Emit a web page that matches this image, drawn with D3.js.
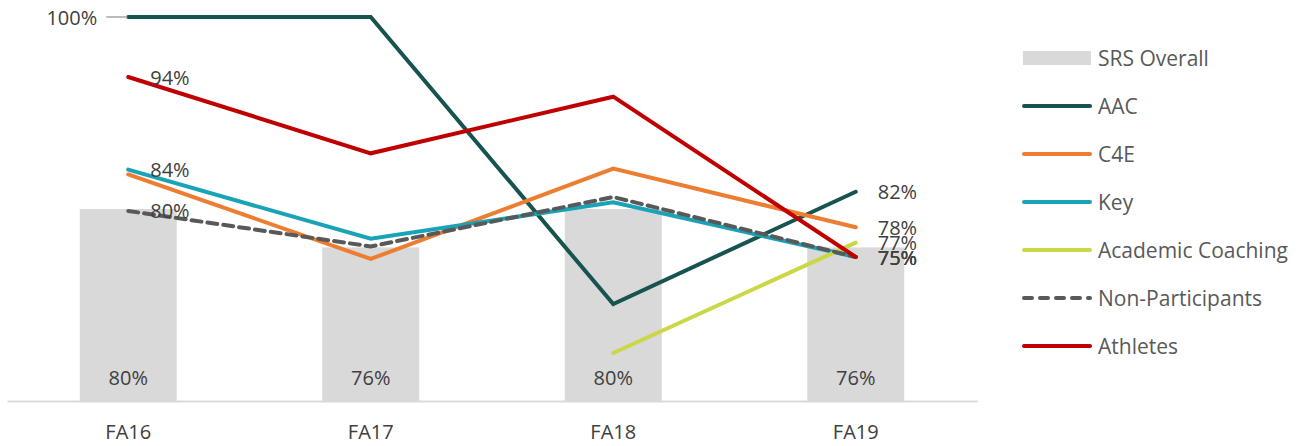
<!DOCTYPE html>
<html lang="en">
<head>
<meta charset="utf-8">
<title>SRS by program</title>
<script src="https://d3js.org/d3.v7.min.js"></script>
<style>
  body { margin: 0; background: #fff; }
  text { font-family: "Open Sans", "Noto Sans", sans-serif; font-size: 20px; fill: #404040; }
  .legend text { fill: #595959; font-size: 21px; }
</style>
</head>
<body>
<script>
// data
var terms = ["FA16", "FA17", "FA18", "FA19"];
var srsOverall = [0.80, 0.76, 0.80, 0.76];
var seriesNames = ["AAC", "C4E", "Key", "Academic Coaching", "Non-Participants", "Athletes"];
var aac = [1.00, 1.00, 0.701, 0.818];
var c4e = [0.836, 0.748, 0.842, 0.781];
var key = [0.841, 0.769, 0.807, 0.75];
var academicCoaching = [null, null, 0.65, 0.765];
var nonParticipants = [0.798, 0.761, 0.8125, 0.75];
var athletes = [0.9375, 0.858, 0.917, 0.75];
var seriesValues = [aac, c4e, key, academicCoaching, nonParticipants, athletes];

var colors = ["#17544f", "#ed7d31", "#19a3b6", "#c9d844", "#595959", "#c00000"];
var dashes = [null, null, null, null, "10,6", null];
// which points carry a data label (index into terms)
var labelPoints = [[0, 3], [3], [0, 3], [3], [0, 3], [0, 3]];

var W = 1299, H = 446;
var plot = {left: 7, right: 977, top: 17, bottom: 401};

var svg = d3.select("body").append("svg")
  .attr("width", W).attr("height", H);

var x = d3.scaleBand().domain(terms).range([plot.left, plot.right]).paddingInner(0).paddingOuter(0);
var y = d3.scaleLinear().domain([0.6, 1.0]).range([plot.bottom, plot.top]);
var barW = x.bandwidth() * 0.4;
var fmt = d3.format(".0%");

// bars
svg.append("g").selectAll("rect")
  .data(srsOverall)
  .enter().append("rect")
  .attr("x", function(d, i) { return x(terms[i]) + x.bandwidth() / 2 - barW / 2; })
  .attr("width", barW)
  .attr("y", function(d) { return y(d); })
  .attr("height", function(d) { return plot.bottom - y(d); })
  .attr("fill", "#d9d9d9");

// baseline + category labels
var xAxis = svg.append("g").attr("transform", "translate(0," + plot.bottom + ")")
  .call(d3.axisBottom(x).tickSize(0).tickPadding(24));
xAxis.select(".domain").attr("stroke", "#d9d9d9").attr("stroke-width", 2);
xAxis.selectAll("text").style("font-family", null).style("font-size", "20px").attr("fill", "#404040");
xAxis.attr("font-family", null).attr("font-size", null);

// bar labels
svg.append("g").selectAll("text")
  .data(srsOverall)
  .enter().append("text")
  .attr("x", function(d, i) { return x(terms[i]) + x.bandwidth() / 2; })
  .attr("y", 377)
  .attr("text-anchor", "middle")
  .attr("dominant-baseline", "central")
  .text(function(d) { return fmt(d); });

// lines
var line = d3.line()
  .defined(function(d) { return d != null; })
  .x(function(d, i) { return x(terms[i]) + x.bandwidth() / 2; })
  .y(function(d) { return y(d); });

seriesValues.forEach(function(vals, s) {
  svg.append("path")
    .attr("d", line(vals))
    .attr("fill", "none")
    .attr("stroke", colors[s])
    .attr("stroke-width", 4)
    .attr("stroke-linecap", "round")
    .attr("stroke-linejoin", "miter")
    .attr("stroke-dasharray", dashes[s]);
});

// data labels
seriesValues.forEach(function(vals, s) {
  labelPoints[s].forEach(function(i) {
    var cx = x(terms[i]) + x.bandwidth() / 2;
    var leftSide = (s === 0 && i === 0);
    if (leftSide) {
      svg.append("line")
        .attr("x1", cx - 22).attr("x2", cx - 1)
        .attr("y1", y(vals[i])).attr("y2", y(vals[i]))
        .attr("stroke", "#a6a6a6").attr("stroke-width", 1.5);
    }
    svg.append("text")
      .attr("x", leftSide ? cx - 31 : cx + 22)
      .attr("y", y(vals[i]))
      .attr("text-anchor", leftSide ? "end" : "start")
      .attr("dominant-baseline", "central")
      .text(fmt(vals[i]));
  });
});

// legend
var legend = svg.append("g").attr("class", "legend").attr("transform", "translate(1023,58)");
legend.append("rect").attr("x", 0).attr("y", -7).attr("width", 68).attr("height", 14).attr("fill", "#d9d9d9");
legend.append("text").attr("x", 75).attr("y", 0).attr("dominant-baseline", "central").text("SRS Overall");
seriesNames.forEach(function(name, s) {
  var g = legend.append("g").attr("transform", "translate(0," + (48 * (s + 1)) + ")");
  g.append("line").attr("x1", 1).attr("x2", 67).attr("y1", 0).attr("y2", 0)
    .attr("stroke", colors[s]).attr("stroke-width", 4)
    .attr("stroke-linecap", "round")
    .attr("stroke-dasharray", dashes[s] ? "8,8" : null);
  g.append("text").attr("x", 75).attr("y", 0).attr("dominant-baseline", "central").text(name);
});
</script>
</body>
</html>
